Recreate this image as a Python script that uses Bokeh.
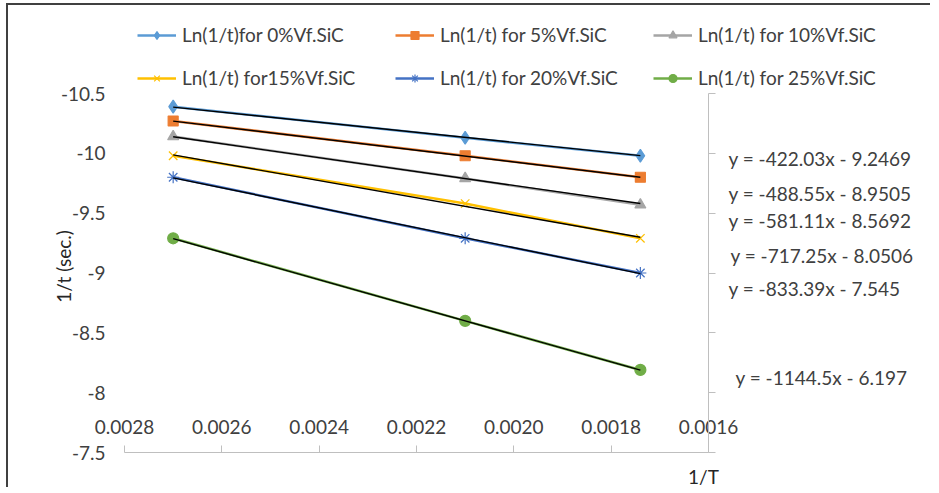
import numpy as np
from bokeh.plotting import figure
from bokeh.models import Range1d, FixedTicker, Legend, LegendItem, Label
from bokeh.embed import file_html
from bokeh.resources import INLINE

# ---------------- data ----------------
inv_T = [0.0027, 0.0021, 0.00174]
ln_0 = [-10.39, -10.13, -9.98]
ln_5 = [-10.27, -9.98, -9.80]
ln_10 = [-10.14, -9.79, -9.57]
ln_15 = [-9.98, -9.58, -9.29]
ln_20 = [-9.80, -9.29, -9.00]
ln_25 = [-9.29, -8.60, -8.19]

series_labels = ["Ln(1/t)for 0%Vf.SiC", "Ln(1/t) for 5%Vf.SiC", "Ln(1/t) for 10%Vf.SiC",
                 "Ln(1/t) for15%Vf.SiC", "Ln(1/t) for 20%Vf.SiC", "Ln(1/t) for 25%Vf.SiC"]
slopes = [-422.03, -488.55, -581.11, -717.25, -833.39, -1144.5]
intercepts = [-9.2469, -8.9505, -8.5692, -8.0506, -7.545, -6.197]
equations = ["y = -422.03x - 9.2469", "y = -488.55x - 8.9505", "y = -581.11x - 8.5692",
             "y = -717.25x - 8.0506", "y = -833.39x - 7.545", "y = -1144.5x - 6.197"]

x_ticks = [0.0028, 0.0026, 0.0024, 0.0022, 0.0020, 0.0018, 0.0016]
x_tick_labels = ["0.0028", "0.0026", "0.0024", "0.0022", "0.0020", "0.0018", "0.0016"]
y_ticks = [-10.5, -10.0, -9.5, -9.0, -8.5, -8.0, -7.5]
y_tick_labels = ["-10.5", "-10", "-9.5", "-9", "-8.5", "-8", "-7.5"]

x_title = "1/T"
y_title = "1/t (sec.)"

# ---------------- layout / style ----------------
FONT = "Lato"
TXT = "#404040"
CX, CY = 8, 5          # page position of canvas origin
W, H = 924, 484
FL, FR, FT, FB = 124, 708, 93, 452   # plot-area edges (page px)
X0, X1 = 0.0028, 0.0016
YT, YB = -10.5, -7.5
KX = (X1 - X0) / (FR - FL)
KY = (YB - YT) / (FB - FT)


def dx(px):
    return X0 + (px - FL) * KX


def dy(py):
    return YT + (py - FT) * KY


colors = ["#5B9BD5", "#ED7D31", "#A5A5A5", "#FFC000", "#4472C4", "#70AD47"]
markers = ["diamond", "square", "triangle", "x", "asterisk", "circle"]
msizes = [13, 10, 11, 12, 12, 11]

p = figure(width=W, height=H,
           x_range=Range1d(dx(CX), dx(CX + W)),
           y_range=Range1d(dy(CY + H), dy(CY)),
           output_backend="svg", toolbar_location=None,
           min_border=0, min_border_left=0, min_border_right=0,
           min_border_top=0, min_border_bottom=0)
p.outline_line_color = None
p.xgrid.visible = False
p.ygrid.visible = False
p.background_fill_color = "white"
p.border_fill_color = "white"
p.styles = {"margin-top": "3px", "margin-left": "6px",
            "border-top": "2px solid #404040", "border-left": "2px solid #404040"}

# horizontal axis: line at y=-7.5, inward ticks, labels above the line
xa = p.xaxis[0]
xa.fixed_location = YB
xa.bounds = (X1, X0)
xa.ticker = FixedTicker(ticks=x_ticks)
xa.major_label_overrides = dict(zip(x_ticks, x_tick_labels))
xa.axis_line_color = "#BFBFBF"
xa.major_tick_line_color = "#BFBFBF"
xa.major_tick_in = 7
xa.major_tick_out = 0
xa.minor_tick_line_color = None
xa.major_label_standoff = -33
xa.major_label_text_font = FONT
xa.major_label_text_font_size = "19px"
xa.major_label_text_color = TXT

# vertical axis: line at x=0.0016 with ticks to the right, labels far left
ya = p.yaxis[0]
ya.fixed_location = X1
ya.bounds = (YT, YB)
ya.ticker = FixedTicker(ticks=y_ticks)
ya.major_label_overrides = dict(zip(y_ticks, y_tick_labels))
ya.axis_line_color = "#BFBFBF"
ya.major_tick_line_color = "#BFBFBF"
ya.minor_tick_line_color = None
ya.major_tick_in = 7
ya.major_tick_out = 0
ya.major_label_standoff = FR - 105
ya.major_label_text_font = FONT
ya.major_label_text_font_size = "19px"
ya.major_label_text_color = TXT

series = [ln_0, ln_5, ln_10, ln_15, ln_20, ln_25]
items = []
for i, ys in enumerate(series):
    lr = p.line(inv_T, ys, line_color=colors[i], line_width=2.5)
    sr = p.scatter(inv_T, ys, marker=markers[i], size=msizes[i],
                   fill_color=colors[i], line_color=colors[i], line_width=1.2)
    items.append(LegendItem(label=series_labels[i], renderers=[lr, sr]))

for i in range(len(series)):
    xs = np.array([min(inv_T), max(inv_T)])
    p.line(xs, slopes[i] * xs + intercepts[i], line_color="black", line_width=1.4)

# legends: three columns of two rows
col_x = [137, 395, 653]
leg_bottom = 89
for c in range(3):
    leg = Legend(items=[items[c], items[c + 3]],
                 location=(col_x[c] - CX, (CY + H) - leg_bottom),
                 orientation="vertical", padding=0, margin=0, spacing=20,
                 glyph_width=39, glyph_height=20, label_height=20, label_standoff=6,
                 label_text_font=FONT, label_text_font_size="19px",
                 label_text_color=TXT, border_line_color=None,
                 background_fill_alpha=0)
    p.add_layout(leg)

# trendline equations
eq_pos = [(728, 158), (728, 193), (728, 220), (730, 255), (728, 288), (735, 377)]
for (ex, ey), txt in zip(eq_pos, equations):
    p.add_layout(Label(x=dx(ex), y=dy(ey), text=txt, text_font=FONT,
                       text_font_size="19px", text_color=TXT,
                       text_align="left", text_baseline="middle"))

p.add_layout(Label(x=dx(63), y=dy(266), text=y_title, angle=np.pi / 2, text_font=FONT,
                   text_font_size="19px", text_color="#262626",
                   text_align="center", text_baseline="middle"))
p.add_layout(Label(x=dx(703), y=dy(476), text=x_title, text_font=FONT,
                   text_font_size="19px", text_color="#262626",
                   text_align="center", text_baseline="middle"))

open("out.html", "w").write(file_html(p, INLINE))
